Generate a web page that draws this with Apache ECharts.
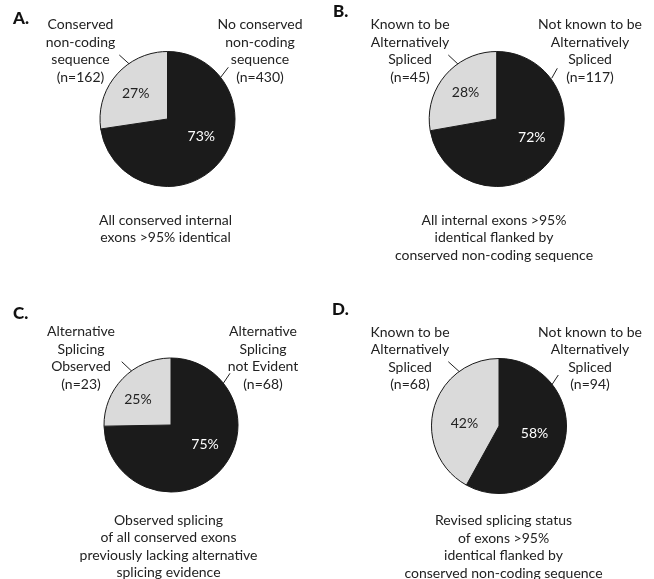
<!DOCTYPE html>
<html><head><meta charset="utf-8">
<script src="https://cdn.jsdelivr.net/npm/echarts@6/dist/echarts.min.js"></script>
<style>html,body{margin:0;padding:0;background:#fff}#c{width:654px;height:579px}</style>
</head><body><div id="c"></div>
<script>
// ---- data ----
const panelLetters = ['A.', 'B.', 'C.', 'D.'];
const labelsA = ['No conserved\nnon-coding\nsequence', 'Conserved\nnon-coding\nsequence'];
const valuesA = [430, 162];
const captionA = 'All conserved internal\nexons >95% identical';

const labelsB = ['Not known to be\nAlternatively\nSpliced', 'Known to be\nAlternatively\nSpliced'];
const valuesB = [117, 45];
const captionB = 'All internal exons >95%\nidentical flanked by\nconserved non-coding sequence';

const labelsC = ['Alternative\nSplicing\nnot Evident', 'Alternative\nSplicing\nObserved'];
const valuesC = [68, 23];
const captionC = 'Observed splicing\nof all conserved exons\npreviously lacking alternative\nsplicing evidence';

const labelsD = ['Not known to be\nAlternatively\nSpliced', 'Known to be\nAlternatively\nSpliced'];
const valuesD = [94, 68];
const captionD = 'Revised splicing status\nof exons >95%\nidentical flanked by\nconserved non-coding sequence';

// ---- layout / style ----
const FONT = 'Lato';
const sliceColors = ['#1b1b1b', '#dadada'];
const pctColors = ['#ffffff', '#222222'];
const panels = [
  {labels: labelsA, values: valuesA, caption: captionA, center: [167.5, 119], r: 67.5,
   pctOff: [[6, -6.5], [-4, -1.5]], letter: [13, 19], right: [260, 51.2], left: [80.5, 51.2], cap: [165.5, 229.2],
   lines: [[119.3, 55, 136.7, 70.7], [228.3, 67.3, 220.7, 77.3]]},
  {labels: labelsB, values: valuesB, caption: captionB, center: [496.7, 119], r: 67.5,
   pctOff: [[7, -5], [-3, -2.5]], letter: [333, 12], right: [590, 51.2], left: [410, 51.2], cap: [494, 237.7],
   lines: [[448.3, 55, 465, 70.7], [557.3, 68.3, 551.7, 78.3]]},
  {labels: labelsC, values: valuesC, caption: captionC, center: [171, 425], r: 67,
   pctOff: [[8, -6.5], [-7, 0.5]], letter: [13, 314], right: [263, 358], left: [81, 358], cap: [168.5, 546.5],
   lines: [[121.7, 361.7, 139.3, 378.3], [230, 373.3, 223.3, 383.3]]},
  {labels: labelsD, values: valuesD, caption: captionD, center: [499, 426], r: 67.5,
   pctOff: [[0, -2], [1, 7]], letter: [332, 310], right: [590, 358.3], left: [410, 358.3], cap: [503.5, 546.8],
   lines: [[448.3, 361.7, 466.7, 378.3], [558.3, 375, 551.7, 385]]}
];

const series = panels.map(p => ({
  type: 'pie',
  center: p.center,
  radius: p.r,
  startAngle: 90,
  clockwise: true,
  avoidLabelOverlap: false,
  percentPrecision: 0,
  silent: true,
  animation: false,
  emphasis: {disabled: true},
  itemStyle: {borderColor: '#1a1a1a', borderWidth: 1},
  label: {show: true, position: 'inside', formatter: '{d}%', fontFamily: FONT, fontSize: 14,
          textBorderWidth: 0, rotate: 0},
  labelLine: {show: false},
  labelLayout: prm => ({dx: p.pctOff[prm.dataIndex][0], dy: p.pctOff[prm.dataIndex][1]}),
  data: p.values.map((v, i) => ({
    name: p.labels[i].replace(/\n/g, ' '),
    value: v,
    itemStyle: {color: sliceColors[i]},
    label: {color: pctColors[i]}
  }))
}));

const textStyle = (text, x, y) => ({
  type: 'text', silent: true,
  style: {text, x, y, fontFamily: FONT, fontSize: 14, fill: '#222', align: 'center',
          verticalAlign: 'middle', lineHeight: 17.5}
});

const graphic = [];
panels.forEach((p, k) => {
  graphic.push({type: 'text', silent: true,
    style: {text: panelLetters[k], x: p.letter[0], y: p.letter[1], fontFamily: FONT, fontSize: 17,
            fontWeight: 900, fill: '#111', align: 'left', verticalAlign: 'middle'}});
  graphic.push(textStyle(p.labels[0] + '\n(n=' + p.values[0] + ')', p.right[0], p.right[1]));
  graphic.push(textStyle(p.labels[1] + '\n(n=' + p.values[1] + ')', p.left[0], p.left[1]));
  graphic.push(textStyle(p.caption, p.cap[0], p.cap[1]));
  p.lines.forEach(l => graphic.push({type: 'line', silent: true,
    shape: {x1: l[0], y1: l[1], x2: l[2], y2: l[3]}, style: {stroke: '#222', lineWidth: 1}}));
});

const chart = echarts.init(document.getElementById('c'), null, {renderer: 'canvas'});
chart.setOption({backgroundColor: '#ffffff', animation: false, series, graphic});
</script>
</body></html>
